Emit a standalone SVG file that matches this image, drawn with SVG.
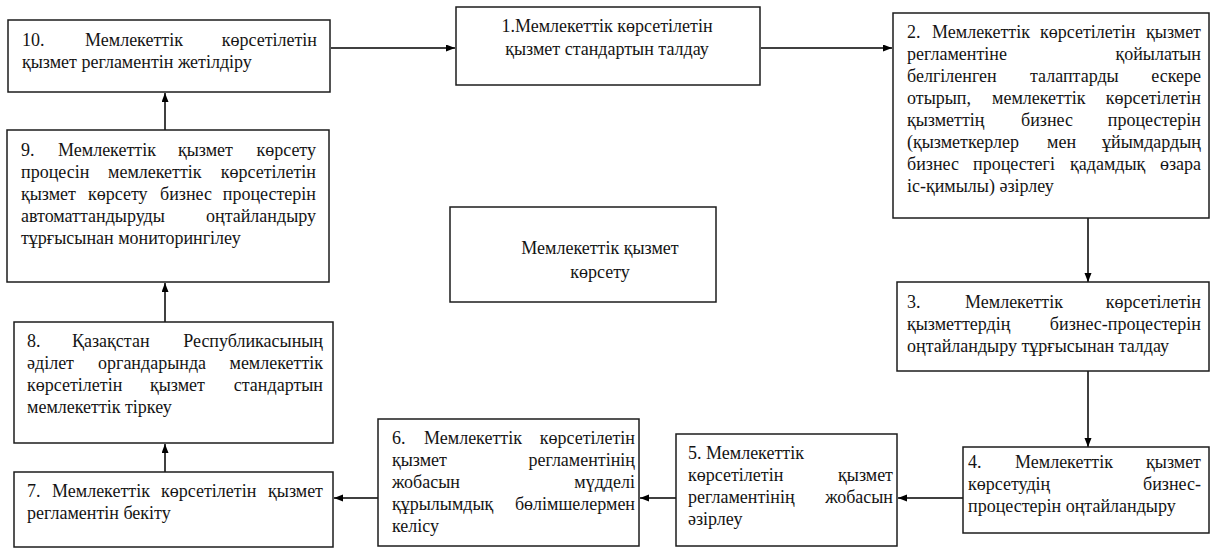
<svg xmlns="http://www.w3.org/2000/svg" width="1211" height="548" viewBox="0 0 1211 548">
<style>
.box{fill:#fff;stroke:#1c1c1c;stroke-width:1.5}
.t{font-family:"Liberation Serif","Times New Roman",serif;font-size:18px;fill:#141414}
.e{text-anchor:end}
.m{text-anchor:middle}
.c{stroke:#000;stroke-width:1.5;fill:none;marker-end:url(#ah)}
</style>
<defs>
<marker id="ah" markerUnits="userSpaceOnUse" markerWidth="10" markerHeight="8" refX="9" refY="3.5" orient="auto">
<path d="M0,0 L9,3.5 L0,7 z" fill="#000"/>
</marker>
</defs>
<rect width="1211" height="548" fill="#fff"/>

<g id="connectors">
<line class="c" x1="331" y1="48" x2="455" y2="48"/>
<line class="c" x1="761" y1="48" x2="892" y2="48"/>
<line class="c" x1="1088" y1="218" x2="1088" y2="282"/>
<line class="c" x1="1088" y1="371" x2="1088" y2="447"/>
<line class="c" x1="963" y1="498" x2="898" y2="498"/>
<line class="c" x1="676" y1="498" x2="640" y2="498"/>
<line class="c" x1="378" y1="498" x2="334" y2="498"/>
<line class="c" x1="165" y1="472" x2="165" y2="444"/>
<line class="c" x1="165" y1="322" x2="165" y2="283"/>
<line class="c" x1="165" y1="130" x2="165" y2="93"/>
</g>

<g id="node10">
<rect class="box" x="8" y="20" width="322" height="72"/>
<text class="t"><tspan x="22" y="46">10.</tspan><tspan x="85" y="46">Мемлекеттік</tspan><tspan class="e" x="317" y="46">көрсетілетін</tspan></text>
<text class="t" x="22" y="68">қызмет регламентін жетілдіру</text>
</g>

<g id="node1">
<rect class="box" x="456" y="7" width="304" height="78"/>
<text class="t m" x="607" y="32">1.Мемлекеттік көрсетілетін</text>
<text class="t m" x="607" y="55">қызмет стандартын талдау</text>
</g>

<g id="node2">
<rect class="box" x="893" y="13" width="316" height="205"/>
<text class="t"><tspan x="907" y="38">2.</tspan><tspan x="932" y="38">Мемлекеттік</tspan><tspan x="1040" y="38">көрсетілетін</tspan><tspan class="e" x="1201" y="38">қызмет</tspan></text>
<text class="t"><tspan x="907" y="60">регламентіне</tspan><tspan class="e" x="1201" y="60">қойылатын</tspan></text>
<text class="t"><tspan x="907" y="82">белгіленген</tspan><tspan x="1030" y="82">талаптарды</tspan><tspan class="e" x="1201" y="82">ескере</tspan></text>
<text class="t"><tspan x="907" y="104">отырып,</tspan><tspan x="992" y="104">мемлекеттік</tspan><tspan class="e" x="1201" y="104">көрсетілетін</tspan></text>
<text class="t"><tspan x="907" y="126">қызметтің</tspan><tspan x="1021" y="126">бизнес</tspan><tspan class="e" x="1201" y="126">процестерін</tspan></text>
<text class="t"><tspan x="907" y="148">(қызметкерлер</tspan><tspan x="1047" y="148">мен</tspan><tspan class="e" x="1201" y="148">ұйымдардың</tspan></text>
<text class="t"><tspan x="907" y="170">бизнес</tspan><tspan x="973" y="170">процестегі</tspan><tspan x="1070" y="170">қадамдық</tspan><tspan class="e" x="1201" y="170">өзара</tspan></text>
<text class="t" x="907" y="192">іс-қимылы) әзірлеу</text>
</g>

<g id="node3">
<rect class="box" x="897" y="282" width="312" height="89"/>
<text class="t"><tspan x="907" y="308">3.</tspan><tspan x="965" y="308">Мемлекеттік</tspan><tspan class="e" x="1201" y="308">көрсетілетін</tspan></text>
<text class="t"><tspan x="907" y="330">қызметтердің</tspan><tspan class="e" x="1201" y="330">бизнес-процестерін</tspan></text>
<text class="t" x="907" y="352">оңтайландыру тұрғысынан талдау</text>
</g>

<g id="node4">
<rect class="box" x="963" y="447" width="246" height="86"/>
<text class="t"><tspan x="968" y="468">4.</tspan><tspan x="1015" y="468">Мемлекеттік</tspan><tspan class="e" x="1201" y="468">қызмет</tspan></text>
<text class="t"><tspan x="968" y="490">көрсетудің</tspan><tspan class="e" x="1201" y="490">бизнес-</tspan></text>
<text class="t" x="968" y="512">процестерін оңтайландыру</text>
</g>

<g id="node5">
<rect class="box" x="676" y="434" width="221" height="112"/>
<text class="t" x="688" y="459">5. Мемлекеттік</text>
<text class="t"><tspan x="688" y="481">көрсетілетін</tspan><tspan class="e" x="893" y="481">қызмет</tspan></text>
<text class="t"><tspan x="688" y="503">регламентінің</tspan><tspan class="e" x="893" y="503">жобасын</tspan></text>
<text class="t" x="688" y="525">әзірлеу</text>
</g>

<g id="node6">
<rect class="box" x="378" y="419" width="261" height="127"/>
<text class="t"><tspan x="392" y="444">6.</tspan><tspan x="424" y="444">Мемлекеттік</tspan><tspan class="e" x="635" y="444">көрсетілетін</tspan></text>
<text class="t"><tspan x="392" y="466">қызмет</tspan><tspan class="e" x="635" y="466">регламентінің</tspan></text>
<text class="t"><tspan x="392" y="488">жобасын</tspan><tspan class="e" x="635" y="488">мүдделі</tspan></text>
<text class="t"><tspan x="392" y="510">құрылымдық</tspan><tspan class="e" x="635" y="510">бөлімшелермен</tspan></text>
<text class="t" x="392" y="532">келісу</text>
</g>

<g id="node7">
<rect class="box" x="14" y="472" width="319" height="75"/>
<text class="t"><tspan x="27" y="497">7.</tspan><tspan x="52" y="497">Мемлекеттік</tspan><tspan x="161" y="497">көрсетілетін</tspan><tspan class="e" x="323" y="497">қызмет</tspan></text>
<text class="t" x="27" y="519">регламентін бекіту</text>
</g>

<g id="node8">
<rect class="box" x="14" y="322" width="319" height="121"/>
<text class="t"><tspan x="27" y="347">8.</tspan><tspan x="72" y="347">Қазақстан</tspan><tspan class="e" x="323" y="347">Республикасының</tspan></text>
<text class="t"><tspan x="27" y="369">әділет</tspan><tspan x="98" y="369">органдарында</tspan><tspan class="e" x="323" y="369">мемлекеттік</tspan></text>
<text class="t"><tspan x="27" y="391">көрсетілетін</tspan><tspan x="150" y="391">қызмет</tspan><tspan class="e" x="323" y="391">стандартын</tspan></text>
<text class="t" x="27" y="413">мемлекеттік тіркеу</text>
</g>

<g id="node9">
<rect class="box" x="7" y="130" width="322" height="152"/>
<text class="t"><tspan x="21" y="156">9.</tspan><tspan x="58" y="156">Мемлекеттік</tspan><tspan x="178" y="156">қызмет</tspan><tspan class="e" x="316" y="156">көрсету</tspan></text>
<text class="t"><tspan x="21" y="178">процесін</tspan><tspan x="108" y="178">мемлекеттік</tspan><tspan class="e" x="316" y="178">көрсетілетін</tspan></text>
<text class="t"><tspan x="21" y="200">қызмет</tspan><tspan x="88" y="200">көрсету</tspan><tspan x="160" y="200">бизнес</tspan><tspan class="e" x="316" y="200">процестерін</tspan></text>
<text class="t"><tspan x="21" y="222">автоматтандыруды</tspan><tspan class="e" x="316" y="222">оңтайландыру</tspan></text>
<text class="t" x="21" y="244">тұрғысынан мониторингілеу</text>
</g>

<g id="center">
<rect class="box" x="450" y="207" width="266" height="95"/>
<text class="t m" x="600" y="254">Мемлекеттік қызмет</text>
<text class="t m" x="600" y="278">көрсету</text>
</g>
</svg>
